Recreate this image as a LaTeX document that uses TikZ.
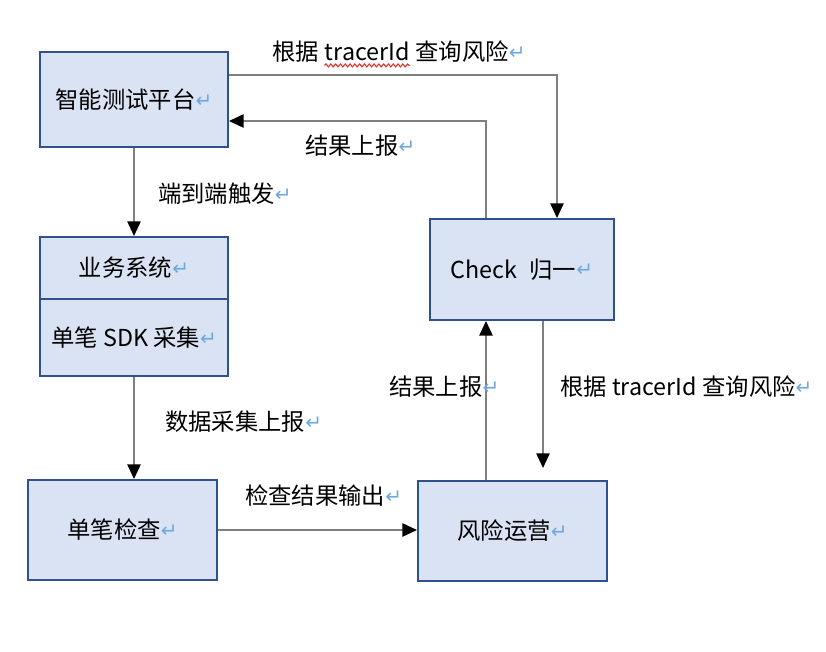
\documentclass[tikz,border=0pt]{standalone}
\usepackage{fontspec}
\setmainfont{Noto Sans CJK SC}
\newfontfamily\symf{DejaVu Sans}
\usetikzlibrary{arrows.meta, positioning, decorations.pathmorphing}
\definecolor{boxfill}{HTML}{DAE3F3}
\definecolor{boxline}{HTML}{2F528F}
\definecolor{connline}{HTML}{7F7F7F}
\definecolor{retblue}{HTML}{6FA8DC}
\definecolor{wavered}{HTML}{E0302A}
\newcommand{\retmk}{{\symf\fontsize{15}{15}\selectfont\raisebox{1pt}{\textcolor{retblue}{↵}}}}
\tikzset{
  box/.style 2 args={draw=boxline, fill=boxfill, line width=1.5pt,
    minimum width=#1*0.75pt, minimum height=#2*0.75pt,
    font=\fontsize{17.5}{20}\selectfont, inner sep=0pt},
  conn/.style={draw=connline, line width=1.2pt,
    -{Triangle[color=black, width=10pt, length=11pt]}},
  lbl/.style={font=\fontsize{17.5}{20}\selectfont, inner sep=0pt},
  redwave/.style={draw=wavered, line width=0.8pt, decorate,
    decoration={snake, amplitude=1.1pt, segment length=3.6pt}}
}

\begin{document}
\begin{tikzpicture}[x=0.75pt, y=-0.75pt]
      \useasboundingbox (0,0) rectangle (826,652);
      \node[box={188}{95}] (test) at (134,99.5) {智能测试平台\retmk};
      \node[box={188}{62}] (biz) at (134,268) {业务系统\retmk};
      \node[box={188}{77}] (sdk) at (134,337.5) {单笔 SDK 采集\retmk};
      \node[box={189}{100}] (single) at (122.5,530) {单笔检查\retmk};
      \node[box={189}{100}] (risk) at (512.5,531) {风险运营\retmk};
      \node[box={184}{101}] (check) at (522,269.5) {Check\hspace{9pt}归一\retmk};
      \coordinate (qa) at (557,75);
      \coordinate (rb) at (486,121);
      \coordinate (qd) at (543,468);
      \draw[conn] (test.east |- qa) -- (qa) -- (qa |- check.north);
      \draw[conn] (rb |- check.north) -- (rb) -- (test.east |- rb);
      \draw[conn] (test.south) -- (biz.north);
      \draw[conn] (sdk.south) -- (sdk.south |- single.north);
      \draw[conn] (single.east) -- (risk.west |- single.east);
      \draw[conn] (rb |- risk.north) -- (rb |- check.south);
      \draw[conn] (qd |- check.south) -- (qd);
      \node[lbl, anchor=west] (q1) at (272,52) {根据};
      \node[lbl, base right=4pt of q1] (q2) {tracerId};
      \node[lbl, base right=4pt of q2] (q3) {查询风险\retmk};
      \draw[redwave] ([yshift=-3pt]q2.south west) -- ([yshift=-3pt]q2.south east);
      \node[lbl, anchor=west] (upa) at (305,146) {结果上报\retmk};
      \node[lbl, anchor=west] (trig) at (158,194) {端到端触发\retmk};
      \node[lbl, anchor=west] (coll) at (165,422) {数据采集上报\retmk};
      \node[lbl, anchor=west] (outp) at (245,496) {检查结果输出\retmk};
      \node[lbl, anchor=west] (upb) at (389,387) {结果上报\retmk};
      \node[lbl, anchor=west] (qry) at (560,387) {根据 tracerId 查询风险\retmk};
    \end{tikzpicture}
\end{document}
